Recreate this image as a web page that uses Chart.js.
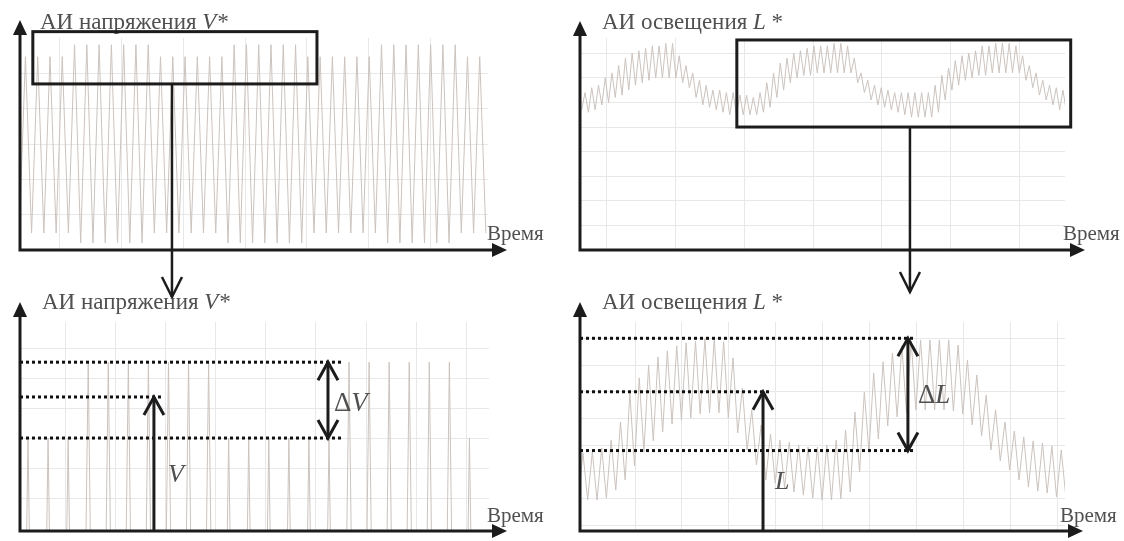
<!DOCTYPE html>
<html lang="ru">
<head>
<meta charset="utf-8">
<title>АИ напряжения и освещения</title>
<script src="https://cdn.jsdelivr.net/npm/chart.js@4.4.1/dist/chart.umd.min.js"></script>
<style>
  html, body { margin: 0; padding: 0; background: #fff; }
  #stage { position: relative; width: 1124px; height: 541px; overflow: hidden; }
  #stage canvas { position: absolute; }
</style>
</head>
<body>
<div id="stage">
  <canvas id="tl" width="560" height="300" style="left:0;top:0"></canvas>
  <canvas id="tr" width="564" height="300" style="left:560px;top:0"></canvas>
  <canvas id="bl" width="560" height="251" style="left:0;top:290px"></canvas>
  <canvas id="br" width="564" height="251" style="left:560px;top:290px"></canvas>
</div>
<script>
// АИ напряжения V* - general view (top left): one peak and one trough per cycle
const vTime0 = -5.6, vPeriod = 1.99;
const vPeaks = [5.47, 5.47, 5.47, 5.47, 5.81, 5.81, 5.81, 5.81, 5.81, 5.81,
                5.81, 5.47, 5.47, 5.47, 5.47, 5.47, 5.47, 5.81, 5.81, 5.81,
                5.81, 5.81, 5.81, 5.47, 5.47, 5.47, 5.47, 5.47, 5.47, 5.81,
                5.81, 5.81, 5.81, 5.81, 5.81, 5.81, 5.47, 5.47];
const vTroughs = [0.48, 0.48, 0.48, 0.48, 0.48, 0.2, 0.2, 0.2, 0.2, 0.2,
                  0.2, 0.48, 0.48, 0.48, 0.48, 0.48, 0.48, 0.2, 0.2, 0.2,
                  0.2, 0.2, 0.2, 0.2, 0.48, 0.48, 0.48, 0.48, 0.48, 0.48,
                  0.2, 0.2, 0.2, 0.2, 0.2, 0.2, 0.48, 0.48, 0.48];

// АИ напряжения V* - zoomed window (bottom left)
const vzTime0 = -0.74, vzPeriod = 0.4;
const vzPeaks = [3.0, 3.0, 3.0, 5.53, 5.53, 5.53, 5.53, 5.53, 5.53, 5.53,
                 3.0, 3.0, 3.0, 3.0, 3.0, 3.0, 5.53, 5.53, 5.53, 5.53,
                 5.53, 5.53, 3.0];
const vzTroughs = [-20.1, -20.1, -20.1, -20.1, -21.4, -21.4, -21.4, -21.4, -21.4, -21.4,
                   -20.1, -20.1, -20.1, -20.1, -20.1, -20.1, -20.1, -21.4, -21.4, -21.4,
                   -21.4, -21.4, -20.1, -20.1];
const vzLevels = [5.53, 4.37, 3.0];   // max, mean, min

// АИ освещения L* - general view (top right)
const lTime0 = -3.2, lPeriod = 0.98;
const lPeaks = [64, 66, 67, 70, 72, 75, 78, 80, 81, 82,
                83, 83, 84, 84, 79, 75, 72, 69, 67, 65,
                65, 64, 64, 63, 63, 62, 64, 68, 72, 76,
                78, 80, 81, 82, 83, 83, 83, 84, 84, 83,
                78, 72, 69, 67, 66, 65, 64, 64, 64, 64,
                64, 64, 67, 71, 74, 77, 79, 80, 81, 83,
                83, 84, 84, 84, 83, 79, 75, 72, 69, 67,
                66, 65];
const lTroughs = [57,
                  56, 57, 59, 60, 62, 63, 65, 67, 68, 69,
                  70, 70, 70, 70, 68, 66, 62, 59, 58, 57,
                  56, 55, 55, 55, 55, 55, 56, 58, 62, 65,
                  68, 70, 71, 71, 72, 72, 72, 72, 72, 72,
                  68, 64, 61, 59, 58, 57, 56, 55, 54, 54,
                  54, 54, 56, 61, 65, 67, 69, 70, 71, 71,
                  72, 72, 72, 72, 72, 69, 66, 63, 61, 59,
                  57, 56];

// АИ освещения L* - zoomed window (bottom right)
const lzTime0 = -0.11, lzPeriod = 0.2;
const lzPeaks = [3.71, 3.75, 3.90, 4.19, 4.87, 5.96, 6.52, 7.00, 7.30, 7.53,
                 7.72, 7.83, 7.90, 7.98, 7.98, 7.87, 7.27, 6.14, 5.32, 4.76,
                 4.42, 4.19, 4.12, 4.01, 3.93, 3.93, 4.01, 4.19, 4.57, 5.24,
                 5.99, 6.70, 7.12, 7.45, 7.72, 7.90, 7.94, 7.94, 7.94, 7.94,
                 7.75, 7.19, 6.63, 5.88, 5.32, 4.87, 4.53, 4.31, 4.16, 4.08,
                 3.97, 3.82];
const lzTroughs = [1.95,
                   1.95, 1.95, 2.02, 2.32, 2.70, 3.22, 3.75, 4.16, 4.49, 4.79,
                   4.94, 5.02, 5.17, 5.21, 5.21, 5.02, 4.46, 3.82, 3.26, 2.70,
                   2.58, 2.40, 2.25, 2.13, 2.02, 1.95, 1.95, 1.99, 2.25, 3.00,
                   3.75, 4.23, 4.72, 5.06, 5.21, 5.32, 5.32, 5.32, 5.32, 5.28,
                   5.17, 4.76, 4.34, 3.82, 3.41, 3.07, 2.70, 2.43, 2.28, 2.21,
                   2.06, 2.02];
const lzLevels = [8.0, 6.0, 3.8];     // max, mean, min

const ink = '#1c1c1c';
const signalColor = '#cbc3be';
const gridColor = '#e8e8e8';
const textColor = '#505050';
const serif = '"Liberation Serif", "DejaVu Serif", serif';

function wavePoints(t0, period, peaks, troughs) {
  const pts = [];
  peaks.forEach((p, i) => {
    pts.push({ x: t0 + i * period - period / 2, y: troughs[i] });
    pts.push({ x: t0 + i * period, y: p });
  });
  pts.push({ x: t0 + peaks.length * period - period / 2, y: troughs[peaks.length] });
  return pts;
}

function axisOpts(min, max, ticks) {
  return {
    type: 'linear', min, max,
    afterBuildTicks: s => { s.ticks = ticks.map(v => ({ value: v })); },
    ticks: { display: false },
    grid: { color: gridColor, lineWidth: 1, drawTicks: false },
    border: { display: false }
  };
}

function makeChart(id, points, xr, yr, xTicks, yTicks, padding, draw) {
  return new Chart(document.getElementById(id), {
    type: 'line',
    data: { datasets: [{ data: points, borderColor: signalColor, borderWidth: 1, pointRadius: 0, tension: 0 }] },
    options: {
      responsive: false, animation: false, events: [],
      layout: { padding },
      plugins: { legend: { display: false }, tooltip: { enabled: false } },
      scales: { x: axisOpts(xr[0], xr[1], xTicks), y: axisOpts(yr[0], yr[1], yTicks) }
    },
    plugins: [{ id: 'sketch', afterDraw: draw }]
  });
}

// ---- drawing helpers ----
function axes(ctx, a, yTip, xTip) {
  ctx.save();
  ctx.strokeStyle = ink; ctx.fillStyle = ink; ctx.lineWidth = 3;
  ctx.beginPath();
  ctx.moveTo(a.left, yTip + 12); ctx.lineTo(a.left, a.bottom); ctx.lineTo(xTip - 12, a.bottom);
  ctx.stroke();
  ctx.beginPath();
  ctx.moveTo(a.left, yTip); ctx.lineTo(a.left - 7, yTip + 15); ctx.lineTo(a.left + 7, yTip + 15);
  ctx.fill();
  ctx.beginPath();
  ctx.moveTo(xTip, a.bottom); ctx.lineTo(xTip - 15, a.bottom - 7); ctx.lineTo(xTip - 15, a.bottom + 7);
  ctx.fill();
  ctx.restore();
}

function richText(ctx, x, y, parts, size) {
  ctx.save();
  ctx.fillStyle = textColor;
  parts.forEach(([s, italic]) => {
    ctx.font = (italic ? 'italic ' : '') + size + 'px ' + serif;
    ctx.fillText(s, x, y);
    x += ctx.measureText(s).width;
  });
  ctx.restore();
}

function dotted(ctx, x0, x1, y) {
  ctx.save();
  ctx.strokeStyle = '#111'; ctx.lineWidth = 3; ctx.setLineDash([3, 3]);
  ctx.beginPath(); ctx.moveTo(x0, y); ctx.lineTo(x1, y); ctx.stroke();
  ctx.restore();
}

function openHead(ctx, x, tip, dir) {
  // dir = 1: pointing up, -1: pointing down
  ctx.beginPath();
  ctx.moveTo(x - 10, tip + dir * 18); ctx.lineTo(x, tip); ctx.lineTo(x + 10, tip + dir * 18);
  ctx.stroke();
}

function vArrow(ctx, x, yFrom, yTo, both) {
  ctx.save();
  ctx.strokeStyle = ink; ctx.lineWidth = 3;
  ctx.beginPath(); ctx.moveTo(x, yFrom); ctx.lineTo(x, yTo); ctx.stroke();
  const dir = yTo < yFrom ? 1 : -1;
  openHead(ctx, x, yTo, dir);
  if (both) openHead(ctx, x, yFrom, -dir);
  ctx.restore();
}

function zoomBox(ctx, x, y, box, linkX, linkTo) {
  const x0 = x.getPixelForValue(box.t[0]), x1 = x.getPixelForValue(box.t[1]);
  const y0 = y.getPixelForValue(box.v[1]), y1 = y.getPixelForValue(box.v[0]);
  ctx.save();
  ctx.strokeStyle = ink; ctx.lineWidth = 3;
  ctx.strokeRect(x0, y0, x1 - x0, y1 - y0);
  const lx = x.getPixelForValue(linkX);
  ctx.lineWidth = 2.5;
  ctx.beginPath(); ctx.moveTo(lx, y1); ctx.lineTo(lx, linkTo); ctx.stroke();
  ctx.beginPath();
  ctx.moveTo(lx - 10, linkTo - 20); ctx.lineTo(lx, linkTo); ctx.lineTo(lx + 10, linkTo - 20);
  ctx.stroke();
  ctx.restore();
}

// ---- panels ----
makeChart('tl', wavePoints(vTime0, vPeriod, vPeaks, vTroughs),
  [-6.48, 69.37], [0, 6.0], [0, 10, 20, 30, 40, 50, 60], [1, 2, 3, 4, 5],
  { left: 20, top: 38, right: 72, bottom: 50 },
  chart => {
    const { ctx, chartArea: a, scales: { x, y } } = chart;
    axes(ctx, a, 20, 507);
    richText(ctx, 40, 29, [['АИ напряжения ', false], ['V*', true]], 23);
    richText(ctx, 487, 240, [['Время', false]], 21);
    zoomBox(ctx, x, y, { t: [-4.4, 41.65], v: [4.70, 6.18] }, 18.15, 297);
  });

makeChart('tr', wavePoints(lTime0, lPeriod, lPeaks, lTroughs),
  [-3.93, 66.67], [0, 86.2], [0, 10, 20, 30, 40, 50, 60], [10, 20, 30, 40, 50, 60, 70, 80],
  { left: 20, top: 38, right: 59, bottom: 50 },
  chart => {
    const { ctx, chartArea: a, scales: { x, y } } = chart;
    axes(ctx, a, 21, 525);
    richText(ctx, 42, 29, [['АИ освещения ', false], ['L', true], [' *', false]], 23);
    richText(ctx, 503, 240, [['Время', false]], 21);
    zoomBox(ctx, x, y, { t: [18.9, 67.5], v: [50, 85.4] }, 44.1, 292);
  });

makeChart('bl', wavePoints(vzTime0, vzPeriod, vzPeaks, vzTroughs),
  [-0.9, 8.45], [-0.1, 6.87], [0, 1, 2, 3, 4, 5, 6, 7, 8], [1, 2, 3, 4, 5, 6],
  { left: 20, top: 32, right: 71, bottom: 10 },
  chart => {
    const { ctx, chartArea: a, scales: { x, y } } = chart;
    axes(ctx, a, 12, 507);
    richText(ctx, 42, 19, [['АИ напряжения ', false], ['V*', true]], 23);
    richText(ctx, 487, 232, [['Время', false]], 21);
    const [hi, mean, lo] = vzLevels.map(v => y.getPixelForValue(v));
    dotted(ctx, a.left, x.getPixelForValue(5.52), hi);
    dotted(ctx, a.left, x.getPixelForValue(1.95), mean);
    dotted(ctx, a.left, x.getPixelForValue(5.52), lo);
    vArrow(ctx, x.getPixelForValue(1.77), a.bottom, mean, false);
    vArrow(ctx, x.getPixelForValue(5.24), lo, hi, true);
    richText(ctx, 168, 192, [['V', true]], 26);
    richText(ctx, 334, 121, [['Δ', false], ['V', true]], 27);
  });

makeChart('br', wavePoints(lzTime0, lzPeriod, lzPeaks, lzTroughs),
  [-0.173, 10.17], [0.79, 8.61], [1, 2, 3, 4, 5, 6, 7, 8, 9, 10], [1, 2, 3, 4, 5, 6, 7, 8],
  { left: 20, top: 32, right: 59, bottom: 10 },
  chart => {
    const { ctx, chartArea: a, scales: { x, y } } = chart;
    axes(ctx, a, 12, 523);
    richText(ctx, 42, 19, [['АИ освещения ', false], ['L', true], [' *', false]], 23);
    richText(ctx, 500, 232, [['Время', false]], 21);
    const [hi, mean, lo] = lzLevels.map(v => y.getPixelForValue(v));
    dotted(ctx, a.left, x.getPixelForValue(6.97), hi);
    dotted(ctx, a.left, x.getPixelForValue(3.92), mean);
    dotted(ctx, a.left, x.getPixelForValue(6.97), lo);
    vArrow(ctx, x.getPixelForValue(3.73), a.bottom, mean, false);
    vArrow(ctx, x.getPixelForValue(6.82), lo, hi, true);
    richText(ctx, 215, 199, [['L', true]], 26);
    richText(ctx, 358, 113, [['Δ', false], ['L', true]], 27);
  });
</script>
</body>
</html>
